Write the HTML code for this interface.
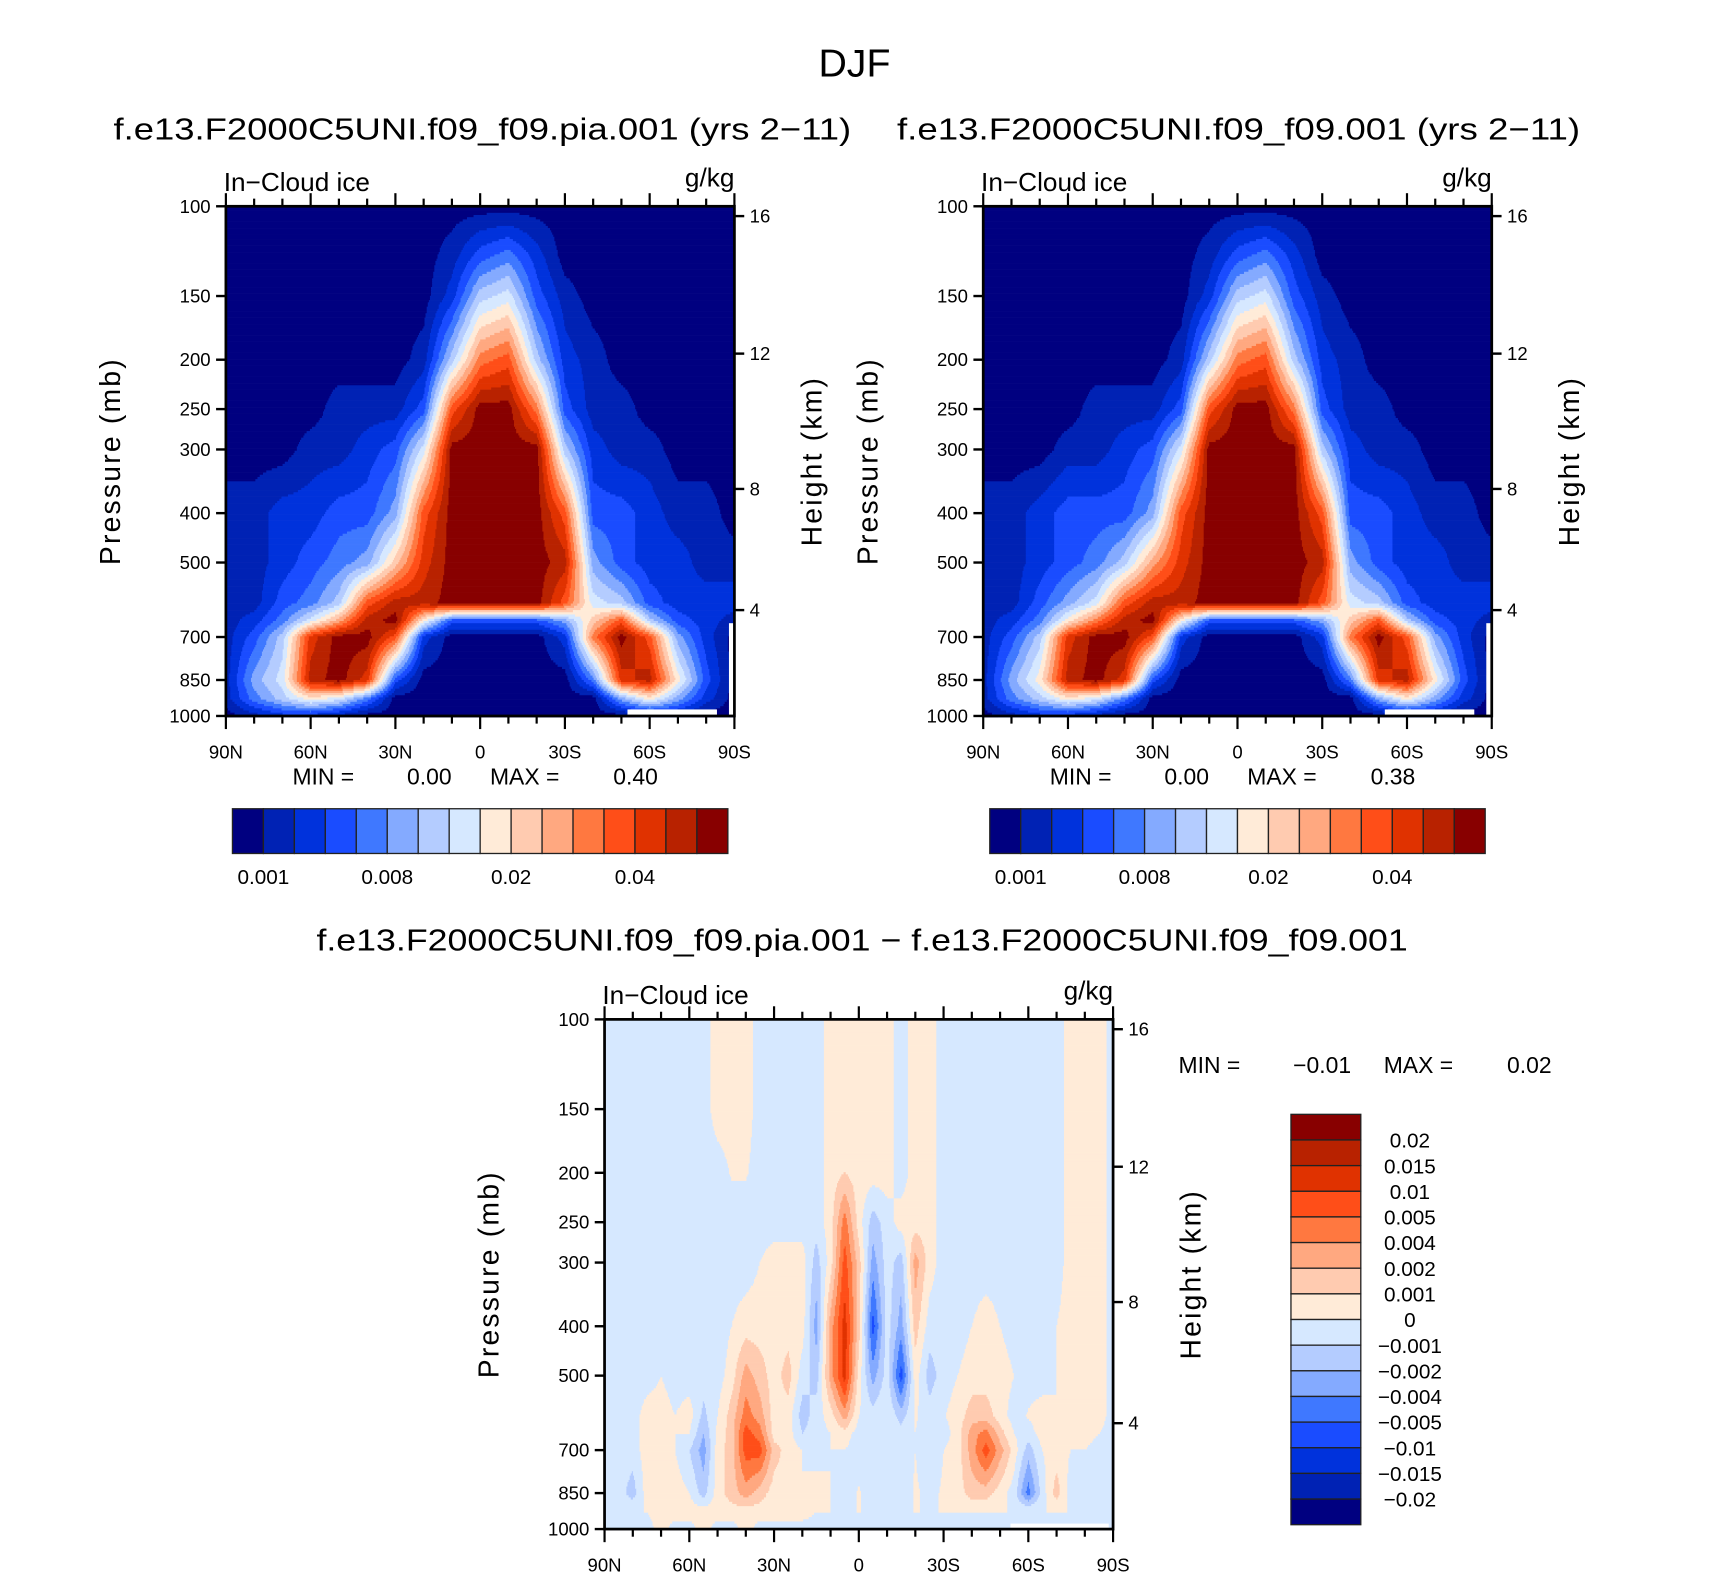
<!DOCTYPE html>
<html><head><meta charset="utf-8"><style>
html,body{margin:0;padding:0;background:#fff;}
svg{display:block;font-family:"Liberation Sans",sans-serif;}
</style></head><body>
<svg id="fig" xmlns="http://www.w3.org/2000/svg" width="1710" height="1576" viewBox="0 0 1567 1444" preserveAspectRatio="none">
<rect x="0" y="0" width="1567" height="1444" fill="#fff"/>
<text x="783" y="70" font-size="36" text-anchor="middle">DJF</text>
<text x="104" y="128" font-size="28" textLength="676" lengthAdjust="spacingAndGlyphs">f.e13.F2000C5UNI.f09_f09.pia.001 (yrs 2−11)</text>
<text x="822" y="128" font-size="28" textLength="626" lengthAdjust="spacingAndGlyphs">f.e13.F2000C5UNI.f09_f09.001 (yrs 2−11)</text>
<text x="290" y="871" font-size="28" textLength="1000" lengthAdjust="spacingAndGlyphs">f.e13.F2000C5UNI.f09_f09.pia.001 − f.e13.F2000C5UNI.f09_f09.001</text>
<g id="layer"></g>
</svg>
<script>
// ---- data ----
var lats = [90,80,70,60,50,40,30,20,10,0,-10,-20,-30,-40,-50,-60,-70,-80,-90];
var latsDiff = [90,85,80,75,70,65,60,55,50,45,40,35,30,25,20,15,10,5,0,-5,-10,-15,-20,-25,-30,-35,-40,-45,-50,-55,-60,-65,-70,-75,-80,-85,-90];
var pressures = [100,125,150,200,250,300,400,500,600,650,700,850,925,1000];
var pressureTicks = [100,150,200,250,300,400,500,700,850,1000];
var heightTicks = [16,12,8,4];
var heightTickOffsets = [9,135,259,370];
var latTickLabels = ['90N','60N','30N','0','30S','60S','90S'];
var topLevelLabels = ['0.001','0.008','0.02','0.04'];
var diffLevelLabels = ['0.02','0.015','0.01','0.005','0.004','0.002','0.001','0','−0.001','−0.002','−0.004','−0.005','−0.01','−0.015','−0.02'];
var colors = ['#000080','#0022b4','#0032dc','#1a4cff','#3f78ff','#84aaff','#b4ccff','#d6e8ff','#ffebd8','#ffcbb0','#ffa880','#ff7840','#ff4e18','#e03200','#b82200','#880000'];
// band index (0-15) of in-cloud ice, rows = pressures, cols = lats
var icePia = [
[0,0,0,0,0,0,0,0,0,0,0,0,0,0,0,0,0,0,0],
[0,0,0,0,0,0,0,0,1,3,4,2,0,0,0,0,0,0,0],
[0,0,0,0,0,0,0,0,2,6,7,3,1,0,0,0,0,0,0],
[0,0,0,0,0,0,0,1,6,11,12,6,2,1,0,0,0,0,0],
[0,0,0,0,1,1,1,3,12,15,15,11,3,1,1,0,0,0,0],
[0,0,0,1,1,2,3,7,15,15,15,15,6,2,1,1,0,0,0],
[1,1,2,2,3,3,5,12,15,15,15,15,12,3,3,2,1,1,0],
[1,1,2,3,4,5,9,13,15,15,15,15,14,5,3,2,2,1,1],
[1,1,3,4,6,12,14,14,15,15,15,15,12,7,6,3,2,2,2],
[1,2,4,7,10,14,15,8,3,3,3,3,5,9,12,6,3,2,1],
[1,3,6,13,15,15,12,2,0,0,0,0,2,11,15,12,5,2,0],
[1,5,7,14,15,13,3,0,0,0,0,0,0,4,13,14,8,3,0],
[1,4,6,8,7,4,0,0,0,0,0,0,0,0,5,8,5,2,0],
[0,1,2,2,1,0,0,0,0,0,0,0,0,0,0,1,1,0,0]];
var iceCtl = [
[0,0,0,0,0,0,0,0,0,0,0,0,0,0,0,0,0,0,0],
[0,0,0,0,0,0,0,0,1,3,4,2,0,0,0,0,0,0,0],
[0,0,0,0,0,0,0,0,2,6,7,3,1,0,0,0,0,0,0],
[0,0,0,0,0,0,0,1,6,11,12,6,2,1,0,0,0,0,0],
[0,0,0,0,1,1,1,3,12,15,15,11,3,1,1,0,0,0,0],
[0,0,0,1,1,2,3,7,15,15,15,15,6,2,1,1,0,0,0],
[1,1,2,3,3,3,5,12,15,15,15,15,12,3,3,2,1,1,0],
[1,1,2,3,4,6,10,13,15,15,15,15,14,5,3,2,2,1,1],
[1,1,3,5,7,12,14,14,15,15,15,15,12,7,6,3,2,2,2],
[1,2,4,8,11,14,15,8,3,3,3,3,5,9,12,6,3,2,1],
[1,3,6,13,15,15,12,2,0,0,0,0,2,11,15,12,5,2,0],
[1,5,8,14,15,13,3,0,0,0,0,0,0,4,13,14,8,3,0],
[1,4,6,8,7,4,0,0,0,0,0,0,0,0,5,8,5,2,0],
[0,1,2,2,1,0,0,0,0,0,0,0,0,0,0,1,1,0,0]];
// signed level of the difference (1 = 0..0.001, 0 = -0.001..0, -1 = -0.002..-0.001, ...)
var iceDiff = [
[0,0,0,0,0,0,0,0,1,1,1,0,0,0,0,0,1,1,1,1,1,0,1,1,0,0,0,0,0,0,0,0,0,1,1,1,0],
[0,0,0,0,0,0,0,0,1,1,1,0,0,0,0,0,1,1,1,1,1,0,1,1,0,0,0,0,0,0,0,0,0,1,1,1,0],
[0,0,0,0,0,0,0,0,1,1,1,0,0,0,0,0,1,1,1,1,1,0,1,1,0,0,0,0,0,0,0,0,0,1,1,1,0],
[0,0,0,0,0,0,0,0,0,0.6,0.6,0,0,0,0,0,1,1.5,1,1,1,0,1,1,0,0,0,0,0,0,0,0,0,1,1,1,0],
[0,0,0,0,0,0,0,0,0,0,0,0,0,0,0,0,1,4,1,-1,0,1,1,1,0,0,0,0,0,0,0,0,0,1,1,1,0],
[0,0,0,0,0,0,0,0,0,0,0,0.5,1,1,1,-1,1,5,2,-2,0,-1,3,1,0,0,0,0,0,0,0,0,0,1,1,1,0],
[0,0,0,0,0,0,0,0,0,0.5,1,1,1,1,1,-2,3,6,2,-4,0,-2,2,0,0,0,0.5,1,0.5,0,0,0,0.5,1,1,1,0],
[0,0,0,0,0.5,0,0,0,0,1,3,2,1,2,0,-1,3,6,1,-2,0,-4,1,-1,0,0.5,1,1,1,0.5,0,0,0.5,1,1,1,0],
[0,0,0,1,1,0.5,1,-0.8,0.5,2,4,3,1,1,-1,0,1,3,0.5,0,0.5,-1,0.6,0,0.4,1,2,2,1,0,0.6,1,0.5,1,1,1,0],
[0,0,0,1,1,0.5,0.5,-1.5,0.8,2,5,4,1,1,-0.5,0,0.5,1,0,0,0.5,0,0.5,0,0,1,3,4,2,0.5,0,1,1,1,1,0.5,0],
[0,0,0,1,1,0.5,-0.5,-2,1,2,5,5,2,1,0.5,0,0.5,0.5,0,0.5,0,0,0.5,0,0.5,1,3,5,3,1,-1,0.5,1,0.5,0.5,0,0],
[0,0,-1,1,1,1,0.5,-1,1,2,3,2,1,1,0.5,1,0.5,0,0.6,0,0.5,0,0.6,0.3,0.6,1,2,2,1,0,-3,0,2,0,0,0,0],
[0,0,0.5,0.5,1,1,1,1,1,1,1,1,1,1,1,0.5,0.5,0.5,0.5,0.5,0.5,0.5,0.5,0.5,0.5,0.5,0.5,0.5,0.5,0.5,0.5,0.5,0.5,0.5,0.5,0,0],
[0,0,0,0,1,0,0,1,0,0,1,0,0,0,0,0,0,0,0,0,0,0,0,0,0,0,0,0,0,0,0,0,0,0,0,0,0]];

// ---- drawing ----
var NS='http://www.w3.org/2000/svg';
var layer=document.getElementById('layer');
function mk(tag,attrs,parent){var e=document.createElementNS(NS,tag);for(var k in attrs)e.setAttribute(k,attrs[k]);(parent||layer).appendChild(e);return e;}
var W=466,H=467;
function xScale(x0,lat){return x0+(90-lat)/180*W;}
function yScale(y0,p){return y0+H-Math.log(1000/p)/Math.log(10)*H;}
function fracIndex(arr,v,desc){
  for(var i=0;i<arr.length-1;i++){var a=arr[i],b=arr[i+1];
    if((desc? (v<=a&&v>=b):(v>=a&&v<=b))){return i+(v-a)/(b-a);}}
  return desc? (v>arr[0]?0:arr.length-1):(v<arr[0]?0:arr.length-1);}
var logP=pressures.map(function(p){return Math.log(p);});
function sample(grid,latArr,lat,p){
  var fi=fracIndex(latArr,lat,true), fj=fracIndex(logP,Math.log(p),false);
  var i0=Math.min(Math.floor(fi),latArr.length-2), j0=Math.min(Math.floor(fj),pressures.length-2);
  var ti=fi-i0, tj=fj-j0;
  var a=grid[j0][i0],b=grid[j0][i0+1],c=grid[j0+1][i0],d=grid[j0+1][i0+1];
  return (a*(1-ti)+b*ti)*(1-tj)+(c*(1-ti)+d*ti)*tj;}
function drawField(x0,y0,grid,latArr,toColor,name){
  var g=mk('g',{});
  
  
  var step=2;
  for(var y=y0;y<y0+H;y+=step){
    var p=1000*Math.pow(10,-(y0+H-(y+step/2))/H);
    var runStart=x0,runCol=null;
    for(var x=x0;x<=x0+W;x+=1){
      var col=null;
      if(x<x0+W){var lat=90-(x+0.5-x0)/W*180;col=toColor(sample(grid,latArr,lat,p));}
      if(col!==runCol){
        if(runCol!==null){var r=mk('rect',{x:runStart,y:y,width:x-runStart+0.3,height:step+0.3,fill:runCol},g);
          
          }
        runStart=x;runCol=col;}
    }
  }
  return g;}
function topColor(v){var k=Math.round(v);if(k<0)k=0;if(k>15)k=15;return colors[k];}
function diffColor(v){var k=8-Math.round(v);if(k<0)k=0;if(k>15)k=15;return colors[15-k];}
function txt(s,attrs,name){var t=mk('text',attrs);t.textContent=s;
  
  return t;}
function axes(x0,y0,prefix){
  pressureTicks.forEach(function(p){var y=yScale(y0,p);
    mk('line',{x1:x0-9,y1:y,x2:x0,y2:y,stroke:'#000','stroke-width':2.2});
    txt(String(p),{x:x0-14,y:y+6,'font-size':17,'text-anchor':'end'},prefix+'-pressure-tick-'+p);});
  for(var lat=90;lat>=-90;lat-=10){var x=xScale(x0,lat);var major=(lat%30===0);
    mk('line',{x1:x,y1:y0+H,x2:x,y2:y0+H+(major?12:7),stroke:'#000','stroke-width':2});
    mk('line',{x1:x,y1:y0,x2:x,y2:y0-(major?12:7),stroke:'#000','stroke-width':2});}
  latTickLabels.forEach(function(l,i){var x=xScale(x0,90-30*i);
    txt(l,{x:x,y:y0+H+39,'font-size':17,'text-anchor':'middle'},prefix+'-lat-label-'+l);});
  heightTicks.forEach(function(h,i){var y=y0+heightTickOffsets[i];
    mk('line',{x1:x0+W,y1:y,x2:x0+W+9,y2:y,stroke:'#000','stroke-width':2.2});
    txt(String(h),{x:x0+W+14,y:y+6,'font-size':17},prefix+'-height-tick-'+h);});
  mk('rect',{x:x0,y:y0,width:W,height:H,fill:'none',stroke:'#000','stroke-width':2.5});
  txt('In−Cloud ice',{x:x0-2,y:y0-14,'font-size':24},prefix+'-variable-label');
  txt('g/kg',{x:x0+W,y:y0-18,'font-size':24,'text-anchor':'end'},prefix+'-units-label');
  txt('Pressure (mb)',{x:0,y:0,'font-size':26,'text-anchor':'middle','letter-spacing':'2',transform:'translate('+(x0-97)+','+(y0+H/2)+') rotate(-90)'},prefix+'-y-axis-title');
  txt('Height (km)',{x:0,y:0,'font-size':26,'text-anchor':'middle','letter-spacing':'2',transform:'translate('+(x0+W+80)+','+(y0+H/2)+') rotate(-90)'},prefix+'-right-axis-title');}
function missing(x0,y0){
  mk('rect',{x:x0+W-5,y:y0+382,width:5,height:H-382,fill:'#fff'});
  mk('rect',{x:x0+368,y:y0+H-6,width:82,height:6,fill:'#fff'});}
function hbar(x0,y0,prefix){
  var bw=454/16;
  colors.forEach(function(c,i){var r=mk('rect',{x:x0+i*bw,y:y0,width:bw,height:41,fill:c,stroke:'#222','stroke-width':1.2});
    
    });
  topLevelLabels.forEach(function(l,i){txt(l,{x:x0+bw*(1+4*i),y:y0+69,'font-size':19,'text-anchor':'middle'},prefix+'-colorbar-label');});
}
var panels=[{x:207,y:189,g:icePia,n:'left',mm:'0.40'},{x:901,y:189,g:iceCtl,n:'right',mm:'0.38'}];
panels.forEach(function(P){
  drawField(P.x,P.y,P.g,lats,topColor,P.n+'-contour-field');
  missing(P.x,P.y);
  axes(P.x,P.y,P.n);
  txt('MIN =',{x:P.x+61,y:719,'font-size':21},P.n+'-min-label');
  txt('0.00',{x:P.x+166,y:719,'font-size':21},P.n+'-min-value');
  txt('MAX =',{x:P.x+242,y:719,'font-size':21},P.n+'-max-label');
  txt(P.mm,{x:P.x+355,y:719,'font-size':21},P.n+'-max-value');
  hbar(P.x+6,741,P.n);
});
drawField(554,934,iceDiff,latsDiff,diffColor,'diff-contour-field');
mk('rect',{x:554+372,y:934+H-5,width:90,height:5,fill:'#fff'});
axes(554,934,'diff');
txt('MIN =',{x:1080,y:983,'font-size':21},'diff-min-label');
txt('−0.01',{x:1185,y:983,'font-size':21},'diff-min-value');
txt('MAX =',{x:1268,y:983,'font-size':21},'diff-max-label');
txt('0.02',{x:1381,y:983,'font-size':21},'diff-max-value');
var bh=376/16;
for(var i=0;i<16;i++){var r=mk('rect',{x:1183,y:1021+i*bh,width:64,height:bh,fill:colors[15-i],stroke:'#222','stroke-width':1.2});
  
  }
diffLevelLabels.forEach(function(l,i){txt(l,{x:1292,y:1021+bh*(i+1)+7,'font-size':19,'text-anchor':'middle'},'diff-colorbar-label');});
</script>
</body></html>
